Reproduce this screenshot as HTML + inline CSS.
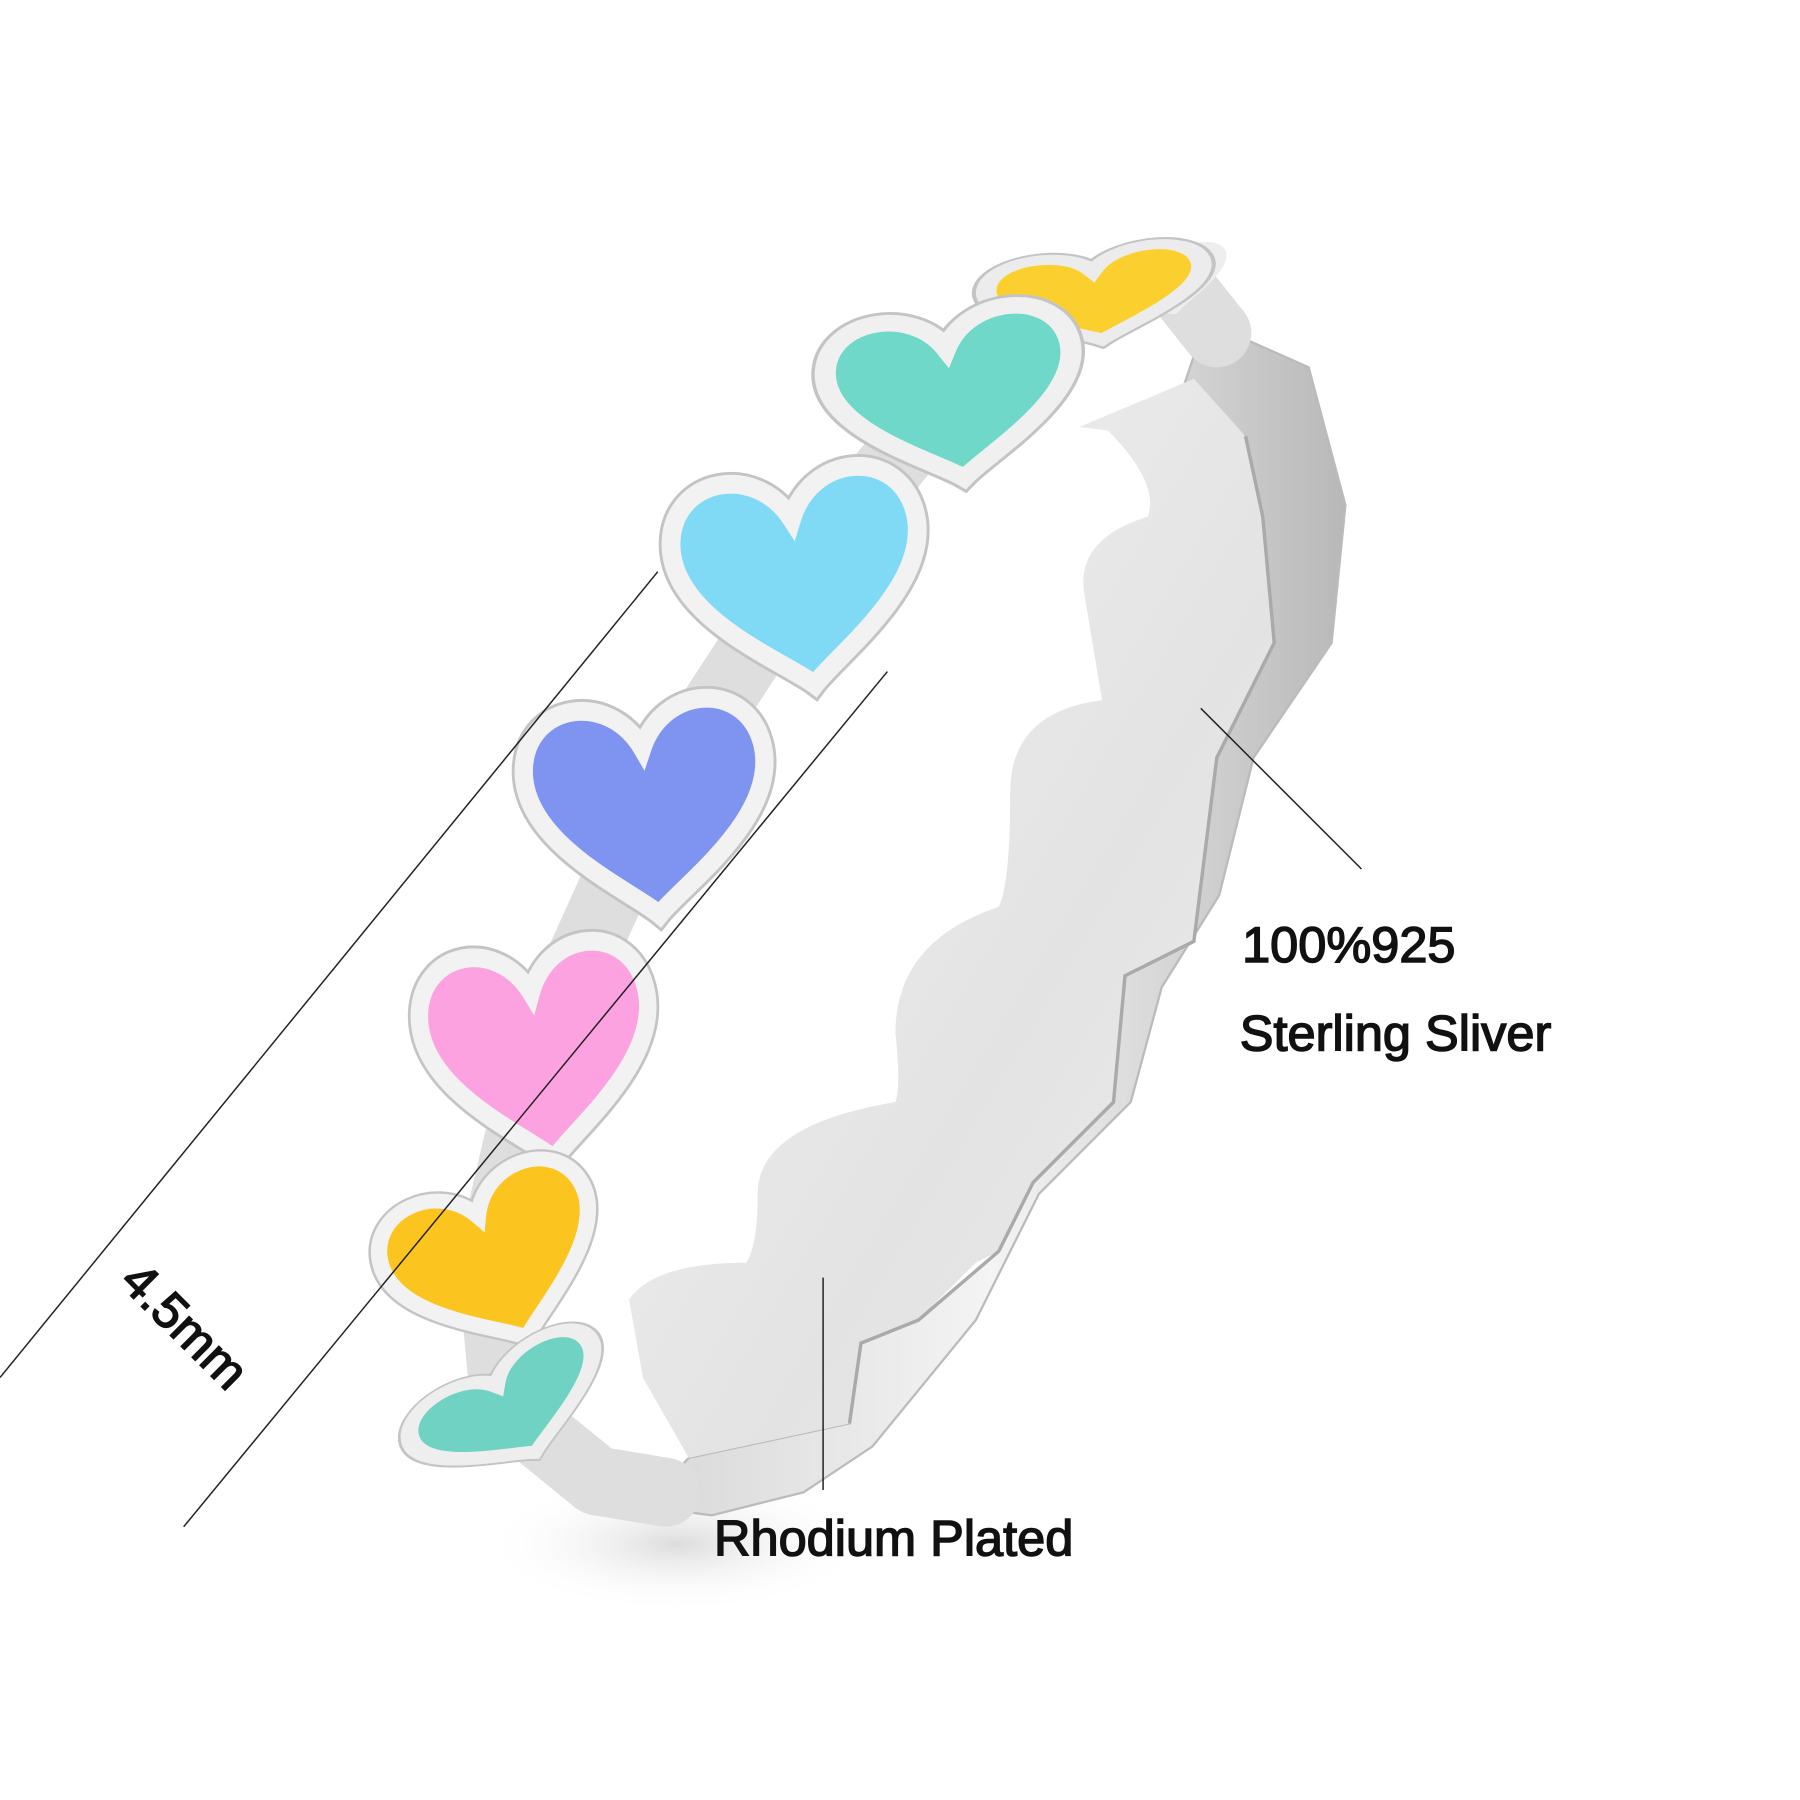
<!DOCTYPE html>
<html><head><style>
html,body{margin:0;padding:0;background:#fff;}
svg{display:block;}
text{font-family:"Liberation Sans","DejaVu Sans",sans-serif;fill:#111;stroke:#111;stroke-width:1.3;}
</style></head><body>
<svg width="1800" height="1800" viewBox="0 0 1568 1568" xmlns="http://www.w3.org/2000/svg">
<defs>
<radialGradient id="sh" cx="0.5" cy="0.5" r="0.5"><stop offset="0" stop-color="#dcdcdc"/><stop offset="1" stop-color="#fff" stop-opacity="0"/></radialGradient>
<linearGradient id="rim" x1="0" y1="0" x2="1" y2="0"><stop offset="0" stop-color="#d8d8d8"/><stop offset="0.5" stop-color="#f4f4f4"/><stop offset="1" stop-color="#b8b8b8"/></linearGradient>
<linearGradient id="inner" x1="0" y1="0" x2="1" y2="1"><stop offset="0" stop-color="#f4f4f4"/><stop offset="0.6" stop-color="#e3e3e3"/><stop offset="1" stop-color="#eeeeee"/></linearGradient>
<path id="h" d="M0,45 C-12,33 -58,8 -52,-24 C-47,-50 -12,-52 0,-26 C12,-52 47,-50 52,-24 C58,8 12,33 0,45Z"/>
</defs>
<ellipse cx="590" cy="1345" rx="170" ry="60" fill="url(#sh)"/>
<!-- outer rim -->
<path d="M1050,280 L1140,320 L1172,440 L1160,560 L1092,660 L1062,780 L1012,860 L985,960 L905,1040 L850,1150 L760,1260 L700,1300 L620,1320 L560,1312 L600,1270 L740,1240 L750,1170 L800,1150 L870,1090 L900,1030 L970,960 L980,850 L1040,820 L1060,660 L1110,560 L1100,450 L1085,380 L1030,340 Z" fill="url(#rim)" stroke="#bbb" stroke-width="2"/>
<!-- inner surface -->
<path d="M940,372 L1040,330 L1085,380 L1100,450 L1110,560 L1060,660 L1040,820 L980,850 L970,960 L900,1030 L870,1090 L850,1100 L800,1150 L750,1170 L740,1240 L600,1270 L560,1200 L548,1132 Q570,1100 650,1100 Q660,1085 660,1040 Q660,980 780,960 Q785,945 780,900 Q780,820 870,790 Q880,770 880,690 Q880,620 960,610 L945,520 Q935,470 1000,450 Q1010,420 965,375 Z" fill="url(#inner)"/>
<path d="M1085,380 L1100,450 L1110,560 L1060,660 L1040,820 L980,850 L970,960 L900,1030 L870,1090 L800,1150 L750,1170 L740,1240" fill="none" stroke="#aaa" stroke-width="3"/>
<!-- chain bezel band -->
<path d="M1060,290 L1020,240 L955,255 L830,340 L695,505 L565,705 L470,915 L428,1095 L440,1225 L520,1290 L580,1300" fill="none" stroke="#dedede" stroke-width="60" stroke-linejoin="round" stroke-linecap="round"/>
<!-- hearts -->
<g>
<g transform="translate(1015,248) rotate(-20) scale(1.0,0.5)"><use href="#h" fill="#f7c8de" stroke-width="14" stroke="#eee"/></g>
<g transform="translate(955,258) rotate(-8) scale(1.8,0.85)"><use href="#h" fill="none" stroke="#c4c4c4" stroke-width="14"/><use href="#h" fill="#fbd02e" stroke="#ececec" stroke-width="10"/></g>
<g transform="translate(830,345) rotate(-8) scale(2.05,1.6)"><use href="#h" fill="none" stroke="#c4c4c4" stroke-width="12"/><use href="#h" fill="#6fd8c8" stroke="#f0f0f0" stroke-width="9"/></g>
<g transform="translate(697,505) rotate(-8) scale(2.05,2.05)"><use href="#h" fill="none" stroke="#c4c4c4" stroke-width="10.5"/><use href="#h" fill="#80d9f5" stroke="#f2f2f2" stroke-width="8"/></g>
<g transform="translate(565,705) rotate(-6) scale(2.0,2.05)"><use href="#h" fill="none" stroke="#c4c4c4" stroke-width="10.5"/><use href="#h" fill="#7f93f0" stroke="#f2f2f2" stroke-width="8"/></g>
<g transform="translate(470,918) rotate(-8) scale(1.9,2.05)"><use href="#h" fill="none" stroke="#c4c4c4" stroke-width="10.5"/><use href="#h" fill="#fca2e0" stroke="#f2f2f2" stroke-width="8"/></g>
<g transform="translate(432,1098) rotate(-22) scale(1.8,1.6)"><use href="#h" fill="none" stroke="#c4c4c4" stroke-width="10.5"/><use href="#h" fill="#fcc41e" stroke="#f2f2f2" stroke-width="8"/></g>
<g transform="translate(445,1228) rotate(-30) scale(1.7,0.95)"><use href="#h" fill="none" stroke="#c4c4c4" stroke-width="13"/><use href="#h" fill="#6fd2c3" stroke="#eeeeee" stroke-width="10"/></g>
</g>
<!-- dimension lines -->
<g stroke="#222" stroke-width="1.3">
<line x1="573" y1="498" x2="0" y2="1200"/>
<line x1="773" y1="585" x2="160" y2="1330"/>
<line x1="1046" y1="617" x2="1186" y2="757"/>
<line x1="717" y1="1113" x2="717" y2="1298"/>
</g>
<text x="1082" y="838" font-size="44">100%925</text>
<text x="1080" y="915" font-size="44">Sterling Sliver</text>
<text x="622" y="1355" font-size="44">Rhodium Plated</text>
<text transform="translate(103,1118) rotate(45)" font-size="44">4.5mm</text>
</svg>
</body></html>
